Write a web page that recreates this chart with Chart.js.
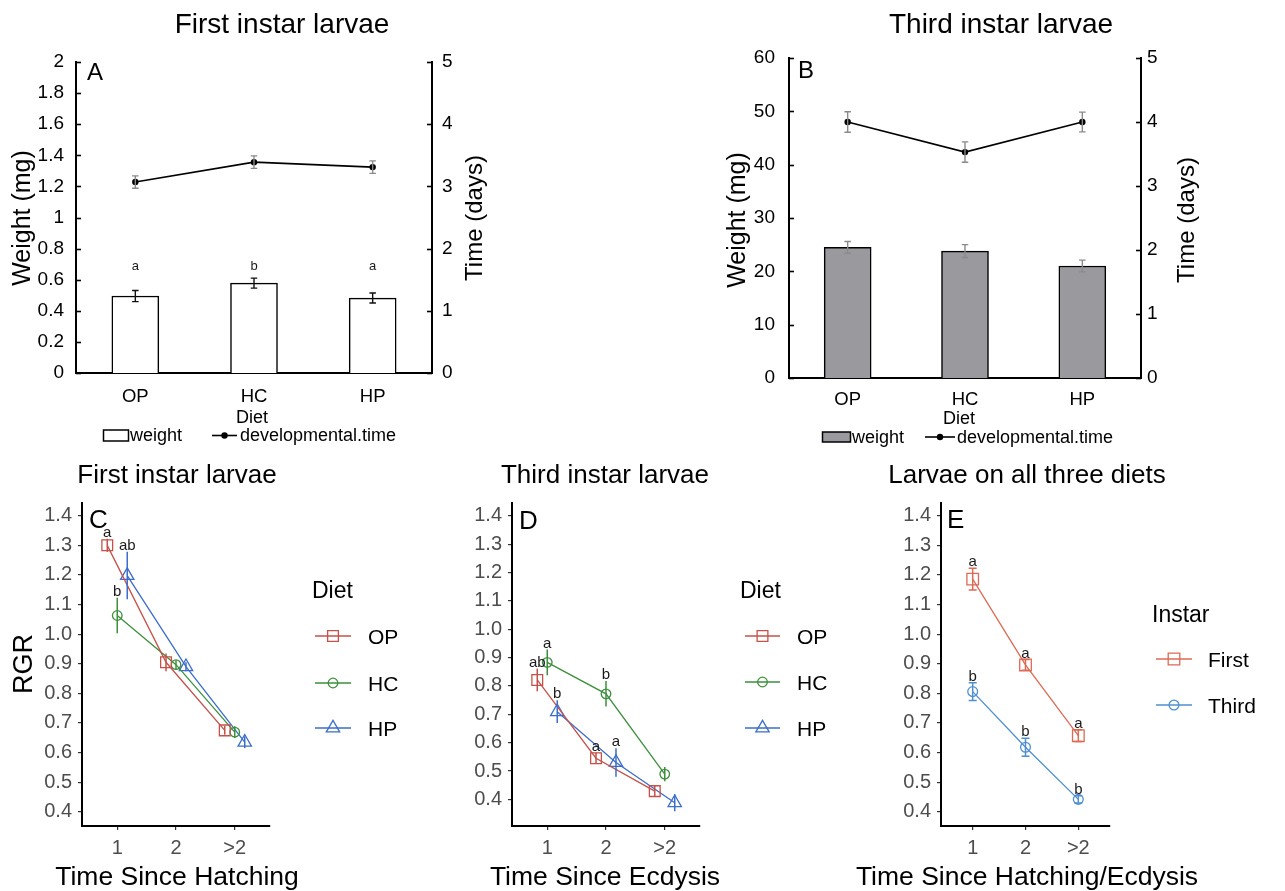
<!DOCTYPE html>
<html>
<head>
<meta charset="utf-8">
<title>Larval weight, development time and relative growth rate</title>
<script src="https://cdn.jsdelivr.net/npm/chart.js@4.4.1/dist/chart.umd.min.js"></script>
<style>
  html, body { margin: 0; padding: 0; background: #ffffff; }
  body { position: relative; width: 1285px; height: 891px; overflow: hidden; }
  canvas { position: absolute; display: block; }
</style>
</head>
<body>
<canvas id="panelA"></canvas>
<canvas id="panelB"></canvas>
<canvas id="panelC"></canvas>
<canvas id="panelD"></canvas>
<canvas id="panelE"></canvas>
<script>
// ---------------- data ----------------
const diets = ['OP', 'HC', 'HP'];

// first instar larvae: weight (mg) and developmental time (days)
const firstWeight = [0.495, 0.578, 0.482];
const firstWeightSE = [0.036, 0.032, 0.032];
const firstWeightLetters = ['a', 'b', 'a'];
const firstDevTime = [3.07, 3.39, 3.31];
const firstDevTimeSE = [0.10, 0.10, 0.10];

// third instar larvae
const thirdWeight = [24.5, 23.8, 21.0];
const thirdWeightSE = [1.1, 1.2, 1.1];
const thirdDevTime = [4.00, 3.53, 4.00];
const thirdDevTimeSE = [0.16, 0.16, 0.155];

// relative growth rate by time since hatching / ecdysis
const timeLabels = ['1', '2', '>2'];
const timeTicks = [1, 2, 3];
const rgrTicks = [0.4, 0.5, 0.6, 0.7, 0.8, 0.9, 1.0, 1.1, 1.2, 1.3, 1.4];

const rgrFirstOP = [1.300, 0.905, 0.675];
const rgrFirstOPSE = [0.022, 0.030, 0.015];
const rgrFirstHC = [1.063, 0.897, 0.669];
const rgrFirstHCSE = [0.060, 0.015, 0.020];
const rgrFirstHP = [1.198, 0.890, 0.635];
const rgrFirstHPSE = [0.080, 0.015, 0.020];
const rgrFirstLettersOP = ['a', '', ''];
const rgrFirstLettersHC = ['b', '', ''];
const rgrFirstLettersHP = ['ab', '', ''];

const rgrThirdOP = [0.821, 0.545, 0.429];
const rgrThirdOPSE = [0.040, 0.020, 0.020];
const rgrThirdHC = [0.883, 0.772, 0.489];
const rgrThirdHCSE = [0.045, 0.045, 0.025];
const rgrThirdHP = [0.709, 0.530, 0.388];
const rgrThirdHPSE = [0.040, 0.050, 0.030];
const rgrThirdLettersOP = ['ab', 'a', ''];
const rgrThirdLettersHC = ['a', 'b', ''];
const rgrThirdLettersHP = ['b', 'a', ''];

const rgrInstarFirst = [1.186, 0.896, 0.657];
const rgrInstarFirstSE = [0.037, 0.018, 0.020];
const rgrInstarThird = [0.806, 0.618, 0.442];
const rgrInstarThirdSE = [0.030, 0.030, 0.012];
const rgrInstarLettersFirst = ['a', 'a', 'a'];
const rgrInstarLettersThird = ['b', 'b', 'b'];

// ---------------- styling ----------------
const FONT = '"Liberation Sans", Arial, Helvetica, sans-serif';
const dietColors = { OP: '#c4524a', HC: '#3d8f3d', HP: '#3b6dca' };
const instarColors = { First: '#dc6a55', Third: '#4f8fd0' };
const dodge = [-0.17, 0, 0.17];

Chart.defaults.font.family = FONT;
Chart.defaults.color = '#000';

// ---------------- helpers ----------------
function placeCanvas(id, r) {
  const c = document.getElementById(id);
  c.width = r.w; c.height = r.h;
  c.style.left = r.x + 'px'; c.style.top = r.y + 'px';
  c.style.width = r.w + 'px'; c.style.height = r.h + 'px';
  return c;
}

// plain number labels: 0, 0.2, ..., 1, 1.2, ..., 2
function plainNumber(v) {
  return String(parseFloat(Number(v).toFixed(2)));
}

function drawMarker(ctx, style, x, y, r) {
  ctx.beginPath();
  if (style === 'rect') {
    const s = r * Math.SQRT1_2;
    ctx.rect(x - s, y - s, 2 * s, 2 * s);
  } else if (style === 'triangle') {
    let a = 0;
    ctx.moveTo(x + Math.sin(a) * r, y - Math.cos(a) * r);
    a += 2 * Math.PI / 3;
    ctx.lineTo(x + Math.sin(a) * r, y - Math.cos(a) * r);
    a += 2 * Math.PI / 3;
    ctx.lineTo(x + Math.sin(a) * r, y - Math.cos(a) * r);
    ctx.closePath();
  } else {
    ctx.arc(x, y, r, 0, Math.PI * 2);
  }
}

// error bars, significance letters, inward ticks, panel texts and legends
const decor = {
  id: 'decor',
  afterDatasetsDraw(chart) {
    const ctx = chart.ctx;
    chart.data.datasets.forEach((ds, di) => {
      if (!ds.errors) return;
      const meta = chart.getDatasetMeta(di);
      const ys = chart.scales[meta.yAxisID];
      meta.data.forEach((el, i) => {
        const raw = ds.data[i];
        const v = (typeof raw === 'object') ? raw.y : raw;
        const e = ds.errors[i];
        const x = el.x;
        const yTop = ys.getPixelForValue(v + e);
        const yBot = ys.getPixelForValue(v - e);
        ctx.save();
        ctx.strokeStyle = ds.errorColor || ds.borderColor;
        ctx.lineWidth = ds.errorWidth || 1.5;
        ctx.beginPath();
        ctx.moveTo(x, yTop); ctx.lineTo(x, yBot);
        if (ds.errorCap) {
          const h = ds.errorCap / 2;
          ctx.moveTo(x - h, yTop); ctx.lineTo(x + h, yTop);
          ctx.moveTo(x - h, yBot); ctx.lineTo(x + h, yBot);
        }
        ctx.stroke();
        ctx.restore();
        const letter = ds.letters && ds.letters[i];
        if (letter) {
          const ly = (ds.letterLevel !== undefined) ? ys.getPixelForValue(ds.letterLevel) : yTop - 2;
          ctx.save();
          ctx.font = (ds.letterSize || 15) + 'px ' + FONT;
          ctx.fillStyle = '#1a1a1a';
          ctx.textAlign = 'center';
          ctx.textBaseline = 'alphabetic';
          ctx.fillText(letter, x, ly);
          ctx.restore();
        }
      });
    });
  },
  afterDraw(chart, _args, o) {
    const ctx = chart.ctx;
    const area = chart.chartArea;
    // tick marks pointing into the plot
    (o.inwardTicks || []).forEach(t => {
      const s = chart.scales[t.scale];
      const x0 = s.position === 'left' ? area.left : area.right;
      const dir = s.position === 'left' ? 1 : -1;
      ctx.save();
      ctx.strokeStyle = '#000';
      ctx.lineWidth = 1.6;
      s.ticks.forEach(tk => {
        const y = Math.round(s.getPixelForValue(tk.value)) + 0.5;
        ctx.beginPath();
        ctx.moveTo(x0, y); ctx.lineTo(x0 + dir * t.len, y);
        ctx.stroke();
      });
      ctx.restore();
    });

    ctx.save();
    ctx.translate(-o.origin[0], -o.origin[1]);
    (o.texts || []).forEach(t => {
      ctx.save();
      ctx.font = (t.weight || '') + ' ' + t.size + 'px ' + FONT;
      ctx.fillStyle = t.color || '#000';
      ctx.textAlign = t.align || 'center';
      ctx.textBaseline = 'alphabetic';
      ctx.translate(t.x, t.y);
      if (t.rotate) ctx.rotate(t.rotate * Math.PI / 180);
      ctx.fillText(t.text, 0, 0);
      ctx.restore();
    });
    const lg = o.legend;
    if (lg) {
      if (lg.title) {
        ctx.font = lg.title.size + 'px ' + FONT;
        ctx.fillStyle = '#000';
        ctx.textAlign = 'left';
        ctx.textBaseline = 'alphabetic';
        ctx.fillText(lg.title.text, lg.title.x, lg.title.y);
      }
      lg.items.forEach(it => {
        const ds = chart.data.datasets[it.ds];
        ctx.save();
        if (it.kind === 'box') {
          ctx.fillStyle = ds.backgroundColor;
          ctx.fillRect(it.x1, it.y - it.h / 2, it.x2 - it.x1, it.h);
          ctx.strokeStyle = ds.borderColor;
          ctx.lineWidth = 1.5;
          ctx.strokeRect(it.x1, it.y - it.h / 2, it.x2 - it.x1, it.h);
        } else {
          ctx.strokeStyle = ds.borderColor;
          ctx.lineWidth = ds.borderWidth;
          ctx.beginPath();
          ctx.moveTo(it.x1, it.y); ctx.lineTo(it.x2, it.y);
          ctx.stroke();
          const mx = (it.x1 + it.x2) / 2;
          drawMarker(ctx, ds.pointStyle, mx, it.y, ds.pointRadius);
          if (it.kind === 'dot') {
            ctx.fillStyle = ds.pointBackgroundColor;
            ctx.fill();
          } else {
            ctx.lineWidth = ds.pointBorderWidth;
            ctx.strokeStyle = ds.pointBorderColor;
            ctx.stroke();
          }
        }
        ctx.font = it.size + 'px ' + FONT;
        ctx.fillStyle = '#000';
        ctx.textAlign = 'left';
        ctx.textBaseline = 'alphabetic';
        ctx.fillText(ds.label, it.textX, it.textY);
        ctx.restore();
      });
    }
    ctx.restore();
  }
};

// ---------------- panels A and B: weight bars + development time line ----------------
function weightPanel(id, rect, area, cfg) {
  const canvas = placeCanvas(id, rect);
  const axisLine = { display: true, color: '#000', width: 2 };
  return new Chart(canvas, {
    type: 'bar',
    data: {
      labels: diets,
      datasets: [
        {
          type: 'bar', label: 'weight', data: cfg.weight, yAxisID: 'yW', order: 2,
          backgroundColor: cfg.barFill, borderColor: '#000', borderWidth: 1.5,
          barThickness: 47, errors: cfg.weightSE, errorColor: cfg.weightErrColor, errorCap: 6.5,
          errorWidth: 1.4, letters: cfg.letters, letterLevel: cfg.letterLevel, letterSize: 13
        },
        {
          type: 'line', label: 'developmental.time', data: cfg.time, yAxisID: 'yT', order: 1,
          borderColor: '#000', backgroundColor: '#000', borderWidth: 1.6,
          pointStyle: 'circle', pointRadius: 3.2, pointBackgroundColor: '#000', pointBorderColor: '#000',
          pointBorderWidth: 0, errors: cfg.timeSE, errorColor: '#8a8a8a', errorCap: 6.5, errorWidth: 1.4
        }
      ]
    },
    options: {
      responsive: false, animation: false, devicePixelRatio: 1,
      layout: { padding: { top: area.top - rect.y, left: 0, right: 0, bottom: 0 } },
      plugins: {
        legend: { display: false }, tooltip: { enabled: false },
        decor: {
          origin: [rect.x, rect.y],
          inwardTicks: [{ scale: 'yW', len: 5 }, { scale: 'yT', len: 5 }],
          texts: cfg.texts,
          legend: cfg.legend
        }
      },
      scales: {
        x: {
          type: 'category', offset: true,
          grid: { display: false, drawTicks: false },
          border: axisLine,
          ticks: { color: '#000', font: { size: 18.5 }, padding: cfg.xPad },
          afterFit: s => { s.height = rect.y + rect.h - area.bottom; }
        },
        yW: {
          type: 'linear', position: 'left', min: 0, max: cfg.wMax,
          grid: { display: false, drawTicks: false },
          border: axisLine,
          ticks: { stepSize: cfg.wStep, color: '#000', font: { size: 19 }, padding: cfg.lPad, callback: plainNumber },
          afterFit: s => { s.width = area.left - rect.x; }
        },
        yT: {
          type: 'linear', position: 'right', min: 0, max: 5,
          grid: { display: false, drawTicks: false },
          border: axisLine,
          ticks: { stepSize: 1, color: '#000', font: { size: 19 }, padding: cfg.rPad, callback: plainNumber },
          afterFit: s => { s.width = rect.x + rect.w - area.right; }
        }
      }
    },
    plugins: [decor]
  });
}

weightPanel('panelA',
  { x: 0, y: 0, w: 500, h: 455 },
  { left: 76, right: 432, top: 62, bottom: 373 },
  {
    weight: firstWeight, weightSE: firstWeightSE, time: firstDevTime, timeSE: firstDevTimeSE,
    letters: firstWeightLetters, letterLevel: 0.66, barFill: '#ffffff', weightErrColor: '#111',
    wMax: 2, wStep: 0.2, xPad: 13, lPad: 12, rPad: 10,
    texts: [
      { text: 'First instar larvae', x: 282, y: 32.5, size: 28 },
      { text: 'A', x: 87, y: 80, size: 24, align: 'left' },
      { text: 'Weight (mg)', x: 30, y: 218, size: 25, rotate: -90 },
      { text: 'Time (days)', x: 482, y: 218, size: 24, rotate: -90 },
      { text: 'Diet', x: 252, y: 423, size: 18 }
    ],
    legend: {
      items: [
        { ds: 0, kind: 'box', x1: 103.5, x2: 128.5, y: 435.5, h: 11, textX: 130, textY: 441, size: 18 },
        { ds: 1, kind: 'dot', x1: 212, x2: 237, y: 435.5, textX: 240, textY: 441, size: 18 }
      ]
    }
  });

weightPanel('panelB',
  { x: 690, y: 0, w: 540, h: 455 },
  { left: 789, right: 1141, top: 58, bottom: 378 },
  {
    weight: thirdWeight, weightSE: thirdWeightSE, time: thirdDevTime, timeSE: thirdDevTimeSE,
    letters: null, barFill: '#9a9a9e', weightErrColor: '#8a8a8a',
    wMax: 60, wStep: 10, xPad: 11, lPad: 14, rPad: 6,
    texts: [
      { text: 'Third instar larvae', x: 1001, y: 32.5, size: 28 },
      { text: 'B', x: 798, y: 77.5, size: 24, align: 'left' },
      { text: 'Weight (mg)', x: 745, y: 220, size: 25, rotate: -90 },
      { text: 'Time (days)', x: 1194, y: 220, size: 24, rotate: -90 },
      { text: 'Diet', x: 959, y: 423.5, size: 18 }
    ],
    legend: {
      items: [
        { ds: 0, kind: 'box', x1: 822.5, x2: 850.5, y: 437, h: 10, textX: 852, textY: 443, size: 18 },
        { ds: 1, kind: 'dot', x1: 925, x2: 955, y: 437, textX: 957, textY: 443, size: 18 }
      ]
    }
  });

// ---------------- panels C, D, E: relative growth rate ----------------
function rgrSeries(label, values, se, letters, color, style, radius, shift, cap) {
  return {
    label: label,
    data: values.map((v, i) => ({ x: timeTicks[i] + shift, y: v })),
    errors: se, letters: letters, errorCap: cap, errorWidth: 1.5, letterSize: 15,
    borderColor: color, backgroundColor: color, borderWidth: 1.3,
    pointStyle: style, pointRadius: radius, pointHoverRadius: radius,
    pointBorderColor: color, pointBackgroundColor: 'rgba(0,0,0,0)', pointBorderWidth: 1.3,
    tension: 0, fill: false
  };
}

function rgrPanel(id, rect, area, yMin, yMax, datasets, extra) {
  const canvas = placeCanvas(id, rect);
  return new Chart(canvas, {
    type: 'line',
    data: { datasets: datasets },
    options: {
      responsive: false, animation: false, devicePixelRatio: 1,
      layout: { padding: { top: area.top - rect.y, left: 0, right: rect.x + rect.w - area.right, bottom: 0 } },
      plugins: {
        legend: { display: false }, tooltip: { enabled: false },
        decor: { origin: [rect.x, rect.y], texts: extra.texts, legend: extra.legend }
      },
      scales: {
        x: {
          type: 'linear', min: 0.4, max: 3.6,
          afterBuildTicks: s => { s.ticks = timeTicks.map(v => ({ value: v })); },
          ticks: { callback: (v, i) => timeLabels[i], color: '#4d4d4d', font: { size: 20 }, padding: 6 },
          grid: { display: true, drawOnChartArea: false, drawTicks: true, tickLength: 4, color: '#333', lineWidth: 1.2 },
          border: { display: true, color: '#000', width: 2 },
          afterFit: s => { s.height = rect.y + rect.h - area.bottom; }
        },
        y: {
          type: 'linear', min: yMin, max: yMax,
          afterBuildTicks: s => { s.ticks = rgrTicks.map(v => ({ value: v })); },
          ticks: { callback: v => v.toFixed(1), color: '#4d4d4d', font: { size: 20 }, padding: 6 },
          grid: { display: true, drawOnChartArea: false, drawTicks: true, tickLength: 4, color: '#333', lineWidth: 1.2 },
          border: { display: true, color: '#000', width: 2 },
          afterFit: s => { s.width = area.left - rect.x; }
        }
      }
    },
    plugins: [decor]
  });
}

function dietLegend(titleX, lineX1, lineX2, textX, ys) {
  return {
    title: { text: 'Diet', x: titleX, y: 598, size: 23 },
    items: ys.map((y, k) => ({ ds: k, kind: 'marker', x1: lineX1, x2: lineX2, y: y, textX: textX, textY: y + 7.5, size: 21 }))
  };
}

rgrPanel('panelC',
  { x: 0, y: 455, w: 430, h: 436 },
  { left: 82, right: 270, top: 503, bottom: 826 },
  0.352, 1.443,
  [
    rgrSeries('OP', rgrFirstOP, rgrFirstOPSE, rgrFirstLettersOP, dietColors.OP, 'rect', 7.6, dodge[0], 0),
    rgrSeries('HC', rgrFirstHC, rgrFirstHCSE, rgrFirstLettersHC, dietColors.HC, 'circle', 4.8, dodge[1], 0),
    rgrSeries('HP', rgrFirstHP, rgrFirstHPSE, rgrFirstLettersHP, dietColors.HP, 'triangle', 7.7, dodge[2], 0)
  ],
  {
    texts: [
      { text: 'First instar larvae', x: 177, y: 483, size: 26 },
      { text: 'C', x: 89, y: 528, size: 26, align: 'left' },
      { text: 'RGR', x: 31.5, y: 664, size: 27, rotate: -90 },
      { text: 'Time Since Hatching', x: 177, y: 885, size: 26.5 }
    ],
    legend: dietLegend(312, 315, 351, 368, [636, 683, 728])
  });

rgrPanel('panelD',
  { x: 430, y: 455, w: 420, h: 436 },
  { left: 512, right: 700, top: 503, bottom: 826 },
  0.306, 1.445,
  [
    rgrSeries('OP', rgrThirdOP, rgrThirdOPSE, rgrThirdLettersOP, dietColors.OP, 'rect', 7.6, dodge[0], 0),
    rgrSeries('HC', rgrThirdHC, rgrThirdHCSE, rgrThirdLettersHC, dietColors.HC, 'circle', 4.8, dodge[1], 0),
    rgrSeries('HP', rgrThirdHP, rgrThirdHPSE, rgrThirdLettersHP, dietColors.HP, 'triangle', 7.7, dodge[2], 0)
  ],
  {
    texts: [
      { text: 'Third instar larvae', x: 605, y: 483, size: 26 },
      { text: 'D', x: 519, y: 529, size: 26, align: 'left' },
      { text: 'Time Since Ecdysis', x: 605, y: 885, size: 26.5 }
    ],
    legend: dietLegend(740, 745, 780, 797, [636, 682, 728])
  });

rgrPanel('panelE',
  { x: 850, y: 455, w: 435, h: 436 },
  { left: 941, right: 1110, top: 503, bottom: 826 },
  0.352, 1.443,
  [
    rgrSeries('First', rgrInstarFirst, rgrInstarFirstSE, rgrInstarLettersFirst, instarColors.First, 'rect', 8.2, 0, 8),
    rgrSeries('Third', rgrInstarThird, rgrInstarThirdSE, rgrInstarLettersThird, instarColors.Third, 'circle', 4.9, 0, 8)
  ],
  {
    texts: [
      { text: 'Larvae on all three diets', x: 1027, y: 483, size: 26 },
      { text: 'E', x: 947, y: 528, size: 26, align: 'left' },
      { text: 'Time Since Hatching/Ecdysis', x: 1027, y: 885, size: 26.5 }
    ],
    legend: {
      title: { text: 'Instar', x: 1152, y: 621.5, size: 23 },
      items: [
        { ds: 0, kind: 'marker', x1: 1156, x2: 1192, y: 659, textX: 1208, textY: 666.5, size: 21 },
        { ds: 1, kind: 'marker', x1: 1156, x2: 1192, y: 705, textX: 1208, textY: 712.5, size: 21 }
      ]
    }
  });
</script>
</body>
</html>
